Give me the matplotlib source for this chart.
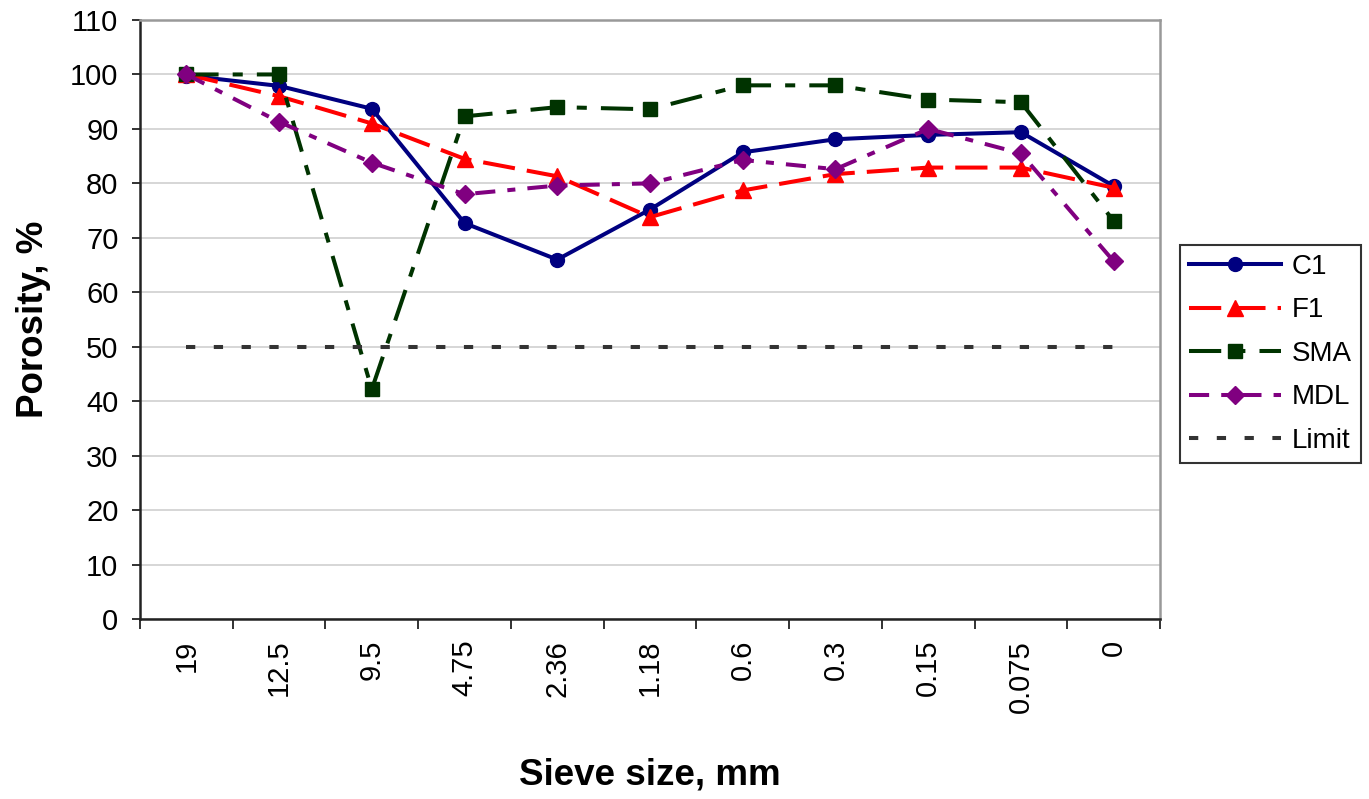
import matplotlib
matplotlib.use("Agg")
import matplotlib.pyplot as plt
from matplotlib.ticker import FixedLocator, MultipleLocator

plt.rcParams['font.family'] = ['Liberation Sans', 'DejaVu Sans']

sieve_sizes = ["19", "12.5", "9.5", "4.75", "2.36", "1.18", "0.6", "0.3", "0.15", "0.075", "0"]
c1 = [99.8, 97.9, 93.7, 72.7, 66.0, 75.2, 85.7, 88.1, 88.9, 89.4, 79.5]
f1 = [100.0, 96.0, 91.0, 84.5, 81.3, 73.8, 78.7, 81.7, 82.9, 82.9, 79.2]
sma = [100.0, 100.0, 42.2, 92.3, 94.0, 93.6, 98.0, 98.0, 95.4, 94.9, 73.1]
mdl = [100.0, 91.3, 83.8, 78.0, 79.6, 80.0, 84.3, 82.6, 90.0, 85.5, 65.7]
limit = [50] * len(sieve_sizes)

fig = plt.figure(figsize=(13.69, 7.99), dpi=100)
ax = fig.add_axes([140 / 1369, 1 - 619 / 799, 1020 / 1369, 599 / 799])

x = list(range(len(sieve_sizes)))
lw = 2.9

ax.plot(x, c1, color='#000080', lw=lw, marker='o', ms=10, label='C1')
ax.plot(x, f1, color='#FF0000', lw=lw, ls=(0, (8, 3)), marker='^', ms=11.5, label='F1')
ax.plot(x, sma, color='#003300', lw=lw, ls=(0, (8, 3.5, 2.5, 3.5)), marker='s', ms=9.5, label='SMA')
ax.plot(x, mdl, color='#800080', lw=lw, ls=(0, (5, 3, 2, 3)), marker='D', ms=9, label='MDL')
ax.plot(x, limit, color='#333333', lw=lw, ls=(0, (2.3, 4.6)), label='Limit')

ax.set_xlim(-0.5, len(sieve_sizes) - 0.5)
ax.set_ylim(0, 110)
ax.yaxis.set_major_locator(MultipleLocator(10))
ax.grid(axis='y', color='#d0d0d0', lw=1.2)
ax.set_axisbelow(True)

ax.set_xticks(x)
ax.set_xticklabels(sieve_sizes, rotation=90, va='top', ha='center')
ax.xaxis.set_minor_locator(FixedLocator([i - 0.5 for i in range(len(sieve_sizes) + 1)]))
ax.tick_params(axis='x', which='major', length=0, pad=15, labelsize=21)
ax.tick_params(axis='x', which='minor', length=7, width=1.3, color='#222222', direction='out')
ax.tick_params(axis='y', which='major', length=6, width=1.3, color='#222222', labelsize=21, pad=9.5)

for side in ('left', 'bottom'):
    ax.spines[side].set_color('#222222')
    ax.spines[side].set_linewidth(1.8)
for side in ('top', 'right'):
    ax.spines[side].set_color('#999999')
    ax.spines[side].set_linewidth(1.8)

ax.set_ylabel('Porosity, %', fontsize=26.5, fontweight='bold')
ax.yaxis.set_label_coords(-0.087, 0.5)
ax.set_xlabel('Sieve size, mm', fontsize=26.5, fontweight='bold')
ax.xaxis.set_label_coords(0.5, -0.232)

leg = ax.legend(loc='upper left', bbox_to_anchor=(1180 / 1369, 1 - 245 / 799),
                bbox_transform=fig.transFigure, fontsize=20, frameon=True,
                fancybox=False, edgecolor='black', handlelength=3.3,
                labelspacing=0.63, borderpad=0.32, handletextpad=0.4, borderaxespad=0)
leg.get_frame().set_linewidth(1.5)

fig.savefig('out.png', dpi=100, facecolor='white')
